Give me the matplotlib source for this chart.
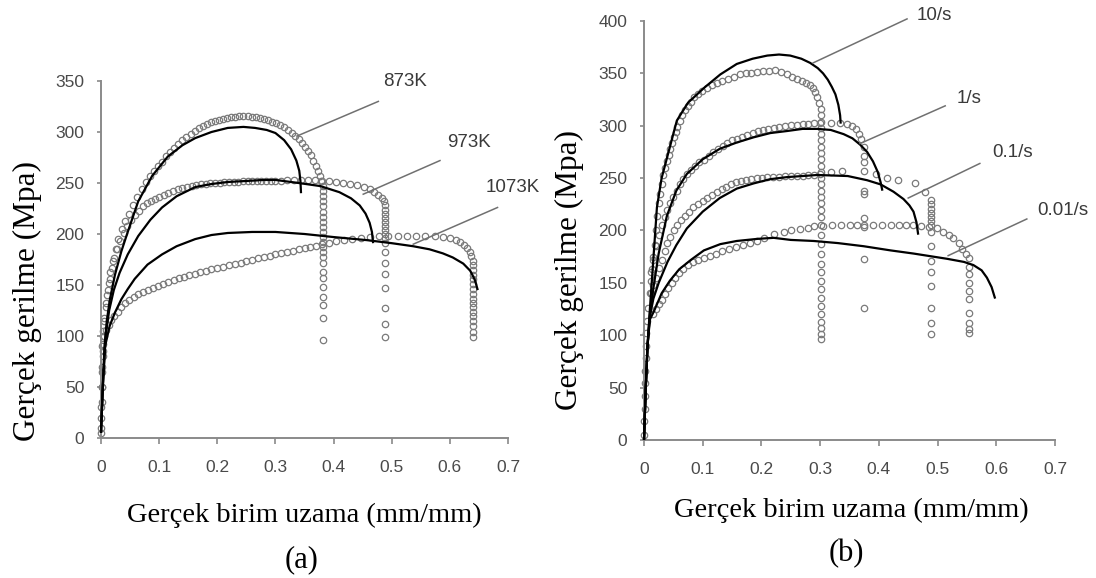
import numpy as np
import matplotlib
matplotlib.use("Agg")
import matplotlib.pyplot as plt

# ---------------- Panel (a): temperature ----------------
x873_exp = [0.000, 0.000, 0.001, 0.002, 0.003, 0.004, 0.006, 0.008, 0.010, 0.013, 0.016, 0.020, 0.025,
            0.030, 0.036, 0.042, 0.048, 0.055, 0.062, 0.070, 0.077, 0.084, 0.091, 0.098, 0.105, 0.112,
            0.119, 0.126, 0.133, 0.140, 0.147, 0.154, 0.161, 0.168, 0.175, 0.182, 0.189, 0.196, 0.203,
            0.210, 0.217, 0.224, 0.231, 0.238, 0.245, 0.252, 0.259, 0.266, 0.273, 0.280, 0.287, 0.294,
            0.301, 0.308, 0.315, 0.322, 0.328, 0.334, 0.340, 0.346, 0.351, 0.356, 0.361, 0.365, 0.369,
            0.373, 0.376, 0.379, 0.381,
            0.382, 0.382, 0.382, 0.382, 0.382, 0.382, 0.382, 0.382, 0.382, 0.382, 0.382, 0.382, 0.382,
            0.382, 0.382, 0.382, 0.382, 0.382, 0.382, 0.382, 0.382, 0.382]
y873_exp = [10, 30, 50, 70, 85, 100, 115, 128, 140, 152, 163, 174, 185,
            195, 205, 213, 220, 228, 236, 244, 251, 257, 262, 267, 271, 276,
            280, 284, 288, 292, 295, 298, 301, 304, 306, 308, 310, 311, 312,
            313, 314, 315, 315, 316, 316, 316, 315, 315, 314, 313, 312, 310,
            309, 307, 305, 302, 299, 296, 293, 289, 285, 281, 277, 272, 267,
            262, 257, 252, 247,
            242, 237, 232, 227, 222, 217, 212, 207, 202, 197, 192, 187, 182,
            177, 172, 163, 157, 148, 138, 130, 118, 96]
x873_mod = [0.000, 0.003, 0.006, 0.010, 0.015, 0.024, 0.035, 0.046, 0.064, 0.088, 0.115, 0.140, 0.162,
            0.190, 0.218, 0.245, 0.265, 0.285, 0.300, 0.315, 0.327, 0.336, 0.341, 0.343, 0.344]
y873_mod = [5, 50, 90, 115, 135, 160, 183, 202, 232, 257, 276, 287, 294,
            300, 304, 305, 304, 302, 299, 292, 283, 272, 262, 252, 240]

x973_exp = [0.002, 0.004, 0.006, 0.009, 0.012, 0.015, 0.019, 0.023, 0.028, 0.033, 0.039, 0.045, 0.051,
            0.058, 0.065, 0.072, 0.079, 0.086, 0.093, 0.100, 0.108, 0.116, 0.124, 0.132, 0.140, 0.148,
            0.156, 0.164, 0.172, 0.180, 0.188, 0.196, 0.204, 0.212, 0.220, 0.228, 0.236, 0.244, 0.252,
            0.260, 0.268, 0.276, 0.284, 0.292, 0.300, 0.310, 0.320, 0.332, 0.344, 0.356, 0.368, 0.380,
            0.392, 0.404, 0.416, 0.428, 0.440, 0.452, 0.462, 0.470, 0.477, 0.483, 0.487,
            0.489, 0.489, 0.489, 0.489, 0.489, 0.489, 0.489, 0.489, 0.489, 0.489, 0.489, 0.489, 0.489,
            0.489, 0.489, 0.489, 0.489]
y973_exp = [90, 105, 118, 132, 145, 156, 167, 176, 185, 193, 201, 208, 214,
            219, 223, 227, 230, 232, 234, 236, 238, 240, 242, 244, 245, 246,
            247, 248, 249, 249, 250, 250, 250, 251, 251, 251, 251, 252, 252,
            252, 252, 252, 252, 252, 252, 252, 253, 253, 253, 253, 253, 252,
            252, 251, 250, 249, 248, 246, 244, 241, 238, 235, 232,
            228, 224, 220, 216, 212, 208, 204, 200, 196, 191, 182, 172, 161,
            147, 127, 112, 99]
x973_mod = [0.000, 0.004, 0.008, 0.014, 0.022, 0.032, 0.046, 0.064, 0.085, 0.105, 0.130, 0.162, 0.190,
            0.218, 0.250, 0.280, 0.300, 0.340, 0.377, 0.410, 0.430, 0.445, 0.455, 0.462, 0.466, 0.468]
y973_mod = [5, 60, 100, 125, 145, 162, 180, 198, 214, 226, 237, 246, 249,
            251, 252, 253, 253, 250, 247, 241, 235, 228, 220, 211, 202, 191]

x1073_exp = [0.000, 0.000, 0.001, 0.001, 0.002, 0.003, 0.004, 0.006, 0.009, 0.013, 0.018, 0.023, 0.029,
             0.035, 0.042, 0.049, 0.056, 0.064, 0.072, 0.080, 0.089, 0.098, 0.107, 0.116, 0.125, 0.134,
             0.143, 0.152, 0.161, 0.170, 0.180, 0.190, 0.200, 0.210, 0.220, 0.230, 0.240, 0.250, 0.260,
             0.270, 0.280, 0.290, 0.300, 0.310, 0.320, 0.330, 0.340, 0.350, 0.360, 0.370, 0.380, 0.392,
             0.404, 0.418, 0.432, 0.447, 0.462, 0.478, 0.494, 0.510, 0.526, 0.542, 0.558, 0.574, 0.588,
             0.600, 0.610, 0.618, 0.625, 0.630, 0.634, 0.637,
             0.640, 0.640, 0.640, 0.640, 0.640, 0.640, 0.640, 0.640, 0.640, 0.640, 0.640, 0.640, 0.640,
             0.640, 0.640, 0.640, 0.640]
y1073_exp = [5, 20, 35, 50, 65, 80, 92, 100, 106, 111, 116, 120, 124,
             128, 132, 135, 138, 141, 143, 145, 147, 149, 151, 153, 155, 157,
             158, 160, 161, 163, 164, 166, 167, 168, 170, 171, 172, 174, 175,
             176, 177, 178, 180, 181, 182, 183, 185, 186, 187, 188, 190, 191,
             193, 194, 195, 196, 197, 198, 198, 198, 198, 198, 198, 198, 197,
             196, 194, 192, 189, 186, 182, 178,
             174, 170, 165, 160, 156, 151, 146, 141, 136, 132, 128, 124, 120,
             115, 110, 104, 99]
x1073_mod = [0.000, 0.003, 0.007, 0.015, 0.024, 0.035, 0.046, 0.058, 0.080, 0.105, 0.130, 0.162, 0.190,
             0.218, 0.260, 0.300, 0.350, 0.400, 0.457, 0.500, 0.537, 0.565, 0.588, 0.605, 0.623, 0.635,
             0.643, 0.648]
y1073_mod = [5, 50, 90, 110, 123, 136, 146, 156, 170, 180, 188, 195, 199,
             201, 202, 202, 200, 197, 194, 191, 188, 185, 181, 177, 171, 164,
             155, 145]

labels_a = ["873K", "973K", "1073K"]

# ---------------- Panel (b): strain rate ----------------
x10_exp = [0.000, 0.000, 0.001, 0.001, 0.002, 0.002, 0.003, 0.003, 0.004, 0.005, 0.007, 0.010, 0.012,
           0.014, 0.016, 0.018, 0.020, 0.022, 0.025, 0.027, 0.030, 0.033, 0.036, 0.039, 0.042, 0.045,
           0.048, 0.051, 0.054, 0.057, 0.061, 0.065, 0.070, 0.075, 0.080, 0.086, 0.092, 0.099, 0.107,
           0.115, 0.124, 0.133, 0.143, 0.153, 0.163, 0.173, 0.183, 0.193, 0.203, 0.213, 0.223, 0.233,
           0.243, 0.252, 0.261, 0.269, 0.276, 0.282, 0.287, 0.291, 0.295, 0.298,
           0.301, 0.301, 0.301, 0.301, 0.301, 0.301, 0.301, 0.301, 0.301, 0.301, 0.301, 0.301, 0.301,
           0.301, 0.301, 0.301, 0.301, 0.301, 0.301, 0.301, 0.301, 0.301, 0.301, 0.301, 0.301, 0.301,
           0.301, 0.301, 0.301, 0.301, 0.301, 0.301, 0.301]
y10_exp = [5, 18, 30, 42, 54, 66, 78, 90, 102, 114, 126, 140, 152,
           163, 175, 186, 200, 214, 226, 235, 244, 253, 260, 266, 272, 278,
           284, 289, 294, 299, 305, 310, 315, 319, 323, 327, 330, 333, 336,
           339, 341, 343, 345, 347, 349, 350, 350, 351, 352, 352, 353, 351,
           349, 347, 345, 343, 341, 339, 336, 332, 327, 322,
           316, 310, 304, 298, 292, 286, 280, 274, 268, 262, 256, 250, 244,
           238, 232, 226, 220, 213, 205, 196, 187, 178, 168, 160, 152, 144,
           136, 128, 120, 113, 107, 101, 96]
x10_mod = [0.000, 0.003, 0.006, 0.010, 0.015, 0.022, 0.030, 0.039, 0.056, 0.075, 0.102, 0.130, 0.158,
           0.185, 0.210, 0.230, 0.249, 0.268, 0.283, 0.296, 0.305, 0.313, 0.320, 0.326, 0.331, 0.334, 0.335]
y10_mod = [0, 50, 90, 125, 165, 222, 250, 269, 305, 322, 336, 349, 359,
           364, 367, 368, 367, 364, 360, 355, 350, 344, 337, 330, 320, 310, 302]

x1_exp = [0.012, 0.016, 0.020, 0.025, 0.030, 0.035, 0.040, 0.045, 0.050, 0.056, 0.061, 0.067, 0.073,
          0.080, 0.087, 0.094, 0.102, 0.110, 0.118, 0.126, 0.134, 0.142, 0.150, 0.158, 0.167, 0.176,
          0.185, 0.194, 0.203, 0.212, 0.221, 0.230, 0.240, 0.250, 0.260, 0.270, 0.280, 0.290, 0.300,
          0.318, 0.333, 0.345, 0.355, 0.361, 0.366, 0.370,
          0.374, 0.374, 0.374, 0.374, 0.374, 0.374, 0.374, 0.374, 0.374]
y1_exp = [160, 172, 185, 196, 205, 213, 220, 226, 232, 238, 244, 249, 254,
          258, 262, 265, 267, 271, 275, 278, 281, 284, 286, 287, 289, 291,
          293, 295, 296, 297, 298, 299, 300, 301, 301, 302, 302, 303, 303,
          303, 303, 302, 300, 297, 292, 287,
          280, 271, 265, 238, 235, 212, 203, 173, 126]
x1_mod = [0.000, 0.003, 0.006, 0.010, 0.016, 0.025, 0.039, 0.055, 0.073, 0.100, 0.129, 0.158, 0.187,
          0.215, 0.244, 0.270, 0.295, 0.318, 0.340, 0.355, 0.368, 0.380, 0.390, 0.398, 0.403, 0.406]
y1_mod = [0, 50, 90, 120, 145, 178, 214, 238, 254, 268, 278, 284, 289,
          293, 295, 297, 297, 296, 292, 288, 282, 275, 266, 256, 246, 238]

x01_exp = [0.012, 0.016, 0.020, 0.025, 0.030, 0.035, 0.040, 0.045, 0.051, 0.057, 0.063, 0.070, 0.077,
           0.084, 0.092, 0.100, 0.108, 0.116, 0.124, 0.132, 0.140, 0.148, 0.156, 0.165, 0.174, 0.183,
           0.192, 0.201, 0.210, 0.220, 0.230, 0.240, 0.250, 0.260, 0.270, 0.280, 0.290, 0.300, 0.318,
           0.338, 0.374, 0.395, 0.414, 0.433, 0.462, 0.479,
           0.489, 0.489, 0.489, 0.489, 0.489, 0.489, 0.489, 0.489, 0.489, 0.489, 0.489, 0.489, 0.489,
           0.489, 0.489]
y01_exp = [140, 148, 155, 164, 172, 180, 188, 194, 200, 205, 210, 214, 218,
           222, 225, 228, 231, 234, 237, 240, 242, 244, 246, 247, 248, 249,
           250, 250, 251, 251, 251, 252, 252, 252, 252, 253, 253, 254, 256,
           257, 257, 254, 250, 248, 245, 237,
           229, 225, 221, 217, 213, 209, 205, 199, 185, 171, 160, 147, 126,
           112, 101]
x01_mod = [0.000, 0.003, 0.006, 0.010, 0.016, 0.025, 0.040, 0.055, 0.073, 0.100, 0.129, 0.158, 0.187,
           0.215, 0.244, 0.270, 0.295, 0.347, 0.380, 0.403, 0.425, 0.442, 0.452, 0.459, 0.464, 0.467]
y01_mod = [0, 50, 90, 118, 135, 150, 170, 186, 202, 218, 231, 240, 245,
           249, 251, 252, 253, 252, 248, 244, 237, 230, 224, 218, 208, 196]

x001_exp = [0.015, 0.020, 0.025, 0.030, 0.036, 0.041, 0.047, 0.053, 0.060, 0.067, 0.075, 0.083, 0.092,
            0.102, 0.112, 0.122, 0.133, 0.144, 0.156, 0.168, 0.180, 0.192, 0.205, 0.221, 0.238, 0.250,
            0.265, 0.279, 0.289, 0.305, 0.320, 0.335, 0.350, 0.362, 0.374, 0.390, 0.405, 0.420, 0.435,
            0.447, 0.459, 0.472, 0.486, 0.499, 0.510, 0.520, 0.527, 0.536, 0.542, 0.548,
            0.553, 0.553, 0.553, 0.553, 0.553, 0.553, 0.553, 0.553, 0.553, 0.553]
y001_exp = [120, 125, 130, 134, 139, 145, 150, 155, 159, 163, 167, 170, 172,
            174, 176, 178, 180, 182, 184, 186, 188, 190, 193, 197, 199, 200,
            201, 202, 204, 204, 205, 205, 205, 205, 205, 205, 205, 205, 205,
            205, 205, 204, 203, 202, 199, 196, 193, 188, 182, 178,
            174, 165, 158, 150, 142, 135, 121, 112, 106, 102]
x001_mod = [0.000, 0.003, 0.006, 0.010, 0.017, 0.030, 0.044, 0.060, 0.080, 0.102, 0.130, 0.158, 0.193,
            0.221, 0.250, 0.289, 0.330, 0.374, 0.420, 0.459, 0.516, 0.545, 0.561, 0.575, 0.584, 0.592, 0.598]
y001_mod = [0, 50, 90, 115, 123, 140, 152, 163, 172, 181, 187, 190, 192,
            193, 191, 190, 188, 185, 181, 178, 173, 170, 167, 162, 155, 146, 135]

labels_b = ["10/s", "1/s", "0.1/s", "0.01/s"]

xticks = [0, 0.1, 0.2, 0.3, 0.4, 0.5, 0.6, 0.7]
xticklabels = ["0", "0.1", "0.2", "0.3", "0.4", "0.5", "0.6", "0.7"]
yticks_a = [0, 50, 100, 150, 200, 250, 300, 350]
yticks_b = [0, 50, 100, 150, 200, 250, 300, 350, 400]

# ---------------- drawing ----------------
W, H = 1096, 578
fig = plt.figure(figsize=(W / 100, H / 100), dpi=100)
fig.patch.set_facecolor("white")

SANS = ["Liberation Sans", "DejaVu Sans"]
SERIF = ["Liberation Serif", "DejaVu Serif"]
TICKC = "#4a4a4a"
SPINEC = "#8a8a8a"
CIRC = "#7a7a7a"
LEADC = "#707070"


def style_axes(ax, ymax, yticks):
    ax.set_xlim(0, 0.7)
    ax.set_ylim(0, ymax)
    for s in ("top", "right"):
        ax.spines[s].set_visible(False)
    for s in ("left", "bottom"):
        ax.spines[s].set_color(SPINEC)
        ax.spines[s].set_linewidth(1.4)
    ax.set_xticks(xticks)
    ax.set_xticklabels(xticklabels)
    ax.set_yticks(yticks)
    ax.tick_params(axis="x", direction="out", length=4, width=1.2, color=SPINEC, pad=12,
                   labelsize=12.5, labelcolor=TICKC)
    ax.tick_params(axis="y", direction="out", length=3, width=1.2, color=SPINEC, pad=9,
                   labelsize=12.5, labelcolor=TICKC)
    for lab in ax.get_xticklabels() + ax.get_yticklabels():
        lab.set_family(SANS)


def exp_pts(ax, x, y):
    ax.plot(x, y, linestyle="none", marker="o", markersize=4.6, markerfacecolor="none",
            markeredgecolor=CIRC, markeredgewidth=0.9, clip_on=False, zorder=2)


def model_line(ax, x, y):
    ax.plot(x, y, color="black", linewidth=1.6, solid_capstyle="butt", clip_on=False, zorder=3)


def leader(ax, x0, y0, x1, y1, text, tx, ty):
    ax.plot([x0, x1], [y0, y1], color=LEADC, linewidth=1.1, clip_on=False, zorder=4)
    ax.text(tx, ty, text, ha="left", va="center", fontsize=13.5, color="#3a3a3a",
            family=SANS, clip_on=False)


# Panel (a)
axa = fig.add_axes([101 / W, 1 - 438 / H, 407 / W, 357 / H])
style_axes(axa, 350, yticks_a)
exp_pts(axa, x873_exp, y873_exp)
exp_pts(axa, x973_exp, y973_exp)
exp_pts(axa, x1073_exp, y1073_exp)
model_line(axa, x873_mod, y873_mod)
model_line(axa, x973_mod, y973_mod)
model_line(axa, x1073_mod, y1073_mod)
leader(axa, 0.337, 296, 0.477, 330, labels_a[0], 0.485, 350)
leader(axa, 0.451, 239, 0.583, 272, labels_a[1], 0.595, 290)
leader(axa, 0.537, 190, 0.682, 226, labels_a[2], 0.661, 246)

# Panel (b)
axb = fig.add_axes([644 / W, 1 - 440 / H, 411 / W, 419 / H])
style_axes(axb, 400, yticks_b)
exp_pts(axb, x10_exp, y10_exp)
exp_pts(axb, x1_exp, y1_exp)
exp_pts(axb, x01_exp, y01_exp)
exp_pts(axb, x001_exp, y001_exp)
model_line(axb, x10_mod, y10_mod)
model_line(axb, x1_mod, y1_mod)
model_line(axb, x01_mod, y01_mod)
model_line(axb, x001_mod, y001_mod)
leader(axb, 0.288, 360, 0.448, 402, labels_b[0], 0.465, 405)
leader(axb, 0.368, 283, 0.513, 319, labels_b[1], 0.533, 326)
leader(axb, 0.450, 231, 0.572, 264, labels_b[2], 0.593, 274)
leader(axb, 0.518, 176, 0.652, 211, labels_b[3], 0.669, 219)

# Axis titles and panel letters
ylab = "Gerçek gerilme (Mpa)"
xlab = "Gerçek birim uzama (mm/mm)"
fig.text(27 / W, 1 - 301 / H, ylab, rotation=90, ha="center", va="center", fontsize=22.5,
         family=SERIF, color="black")
fig.text(569 / W, 1 - 270 / H, ylab, rotation=90, ha="center", va="center", fontsize=22.5,
         family=SERIF, color="black")
fig.text(304 / W, 1 - 515 / H, xlab, ha="center", va="center", fontsize=20.5, family=SERIF,
         color="black")
fig.text(851 / W, 1 - 510 / H, xlab, ha="center", va="center", fontsize=20.5, family=SERIF,
         color="black")
fig.text(302 / W, 1 - 560 / H, "(a)", ha="center", va="center", fontsize=22, family=SERIF,
         color="black")
fig.text(846 / W, 1 - 554 / H, "(b)", ha="center", va="center", fontsize=22, family=SERIF,
         color="black")

fig.savefig("out.png", dpi=100, facecolor="white")
